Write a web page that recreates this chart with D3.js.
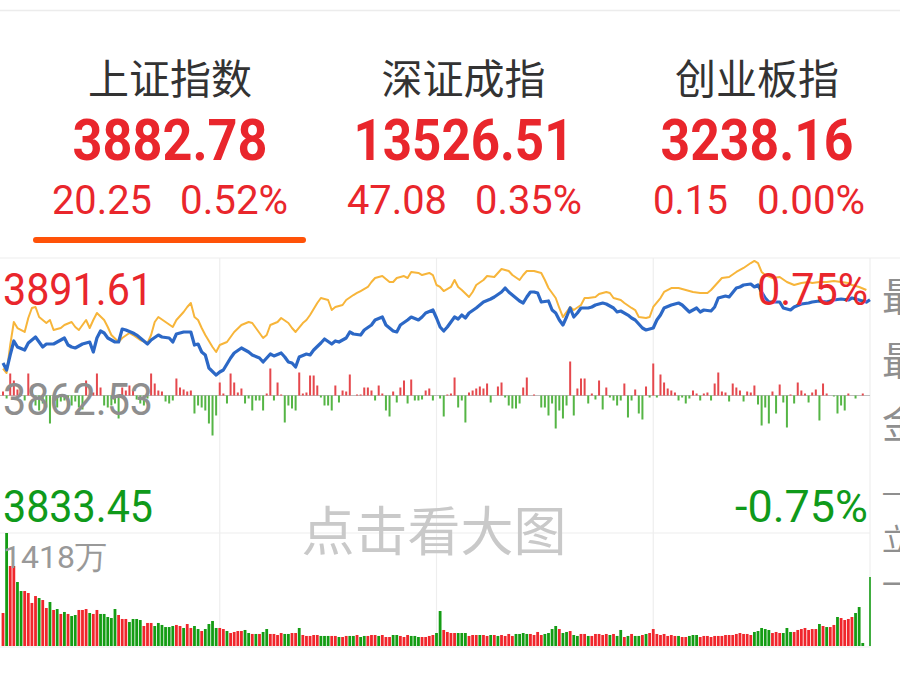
<!DOCTYPE html>
<html><head><meta charset="utf-8">
<script src="https://cdn.jsdelivr.net/npm/d3@7"></script>
<style>html,body{margin:0;padding:0;background:#fff;overflow:hidden}</style>
</head><body>
<script>
// ---------- data ----------
const indexNames = ["上证指数", "深证成指", "创业板指"];
const indexValues = ["3882.78", "13526.51", "3238.16"];
const indexChanges = ["20.25", "47.08", "0.15"];
const indexPercents = ["0.52%", "0.35%", "0.00%"];

const prevClose = 3862.53;
const priceTicks = [3891.61, 3862.53, 3833.45];
const pctTicks = ["0.75%", "-0.75%"];
const volMaxLabel = "1418万";
const volMax = 1418;
const watermark = "点击看大图";
const sideLabels = ["最高", "最低", "金额", "一", "立", "一"];

// minute index (0 = 09:30, 120 = 11:30/13:00, 240 = 15:00), price
const pricePts = [
[0,3869.40],[1,3867.92],[2,3871.10],[3,3874.06],[4,3872.79],[6,3872.15],[7,3873.63],[8,3874.27],[9,3874.90],[11,3872.79],
[12,3873.42],[14,3873.42],[15,3873.84],[17,3874.69],[18,3873.21],[19,3872.79],[20,3872.58],[22,3873.42],[24,3873.84],[25,3871.73],
[26,3874.69],[27,3876.17],[28,3875.75],[29,3874.69],[31,3873.84],[32,3873.84],[33,3876.59],[34,3876.38],[36,3875.75],[37,3875.32],
[38,3874.69],[40,3873.42],[41,3874.27],[43,3875.32],[44,3874.90],[46,3874.69],[47,3873.84],[48,3875.54],[50,3875.96],[51,3875.96],
[52,3875.96],[53,3873.21],[54,3873.42],[55,3871.73],[56,3871.10],[57,3868.35],[59,3866.86],[60,3867.50],[61,3867.92],[63,3870.46],
[64,3871.52],[66,3872.58],[68,3871.73],[69,3871.10],[71,3870.46],[72,3869.62],[74,3871.31],[75,3870.89],[77,3871.52],[78,3870.67],
[79,3869.62],[80,3869.40],[81,3868.56],[82,3870.67],[84,3871.31],[85,3871.10],[86,3872.15],[88,3873.63],[89,3874.48],[91,3873.42],
[92,3874.06],[93,3873.84],[95,3874.69],[96,3875.96],[97,3875.54],[99,3875.32],[100,3876.38],[102,3877.44],[103,3878.50],[105,3879.13],
[106,3877.44],[108,3876.17],[109,3875.96],[110,3877.44],[112,3878.50],[113,3879.13],[115,3878.50],[116,3879.13],[117,3879.98],[119,3880.61],
[120,3878.92],[121,3877.02],[122,3876.17],[123,3877.02],[125,3879.13],[126,3878.71],[127,3879.55],[128,3878.92],[129,3879.98],[131,3881.04],
[132,3881.67],[133,3882.30],[135,3882.94],[136,3883.36],[138,3884.42],[139,3885.26],[140,3884.42],[141,3883.78],[143,3882.52],[144,3882.09],
[145,3883.36],[146,3884.42],[147,3884.42],[148,3884.21],[149,3882.30],[151,3882.52],[152,3880.61],[153,3879.98],[154,3878.50],[155,3877.44],
[156,3879.13],[157,3881.04],[158,3879.13],[159,3879.98],[160,3881.04],[162,3881.04],[163,3881.25],[164,3881.67],[166,3882.09],[167,3881.88],
[169,3881.04],[170,3880.19],[171,3880.40],[173,3879.55],[174,3878.92],[175,3878.50],[177,3876.80],[178,3876.38],[180,3876.80],[181,3878.50],
[182,3879.55],[183,3881.04],[185,3881.67],[187,3882.09],[188,3881.67],[190,3880.19],[192,3881.04],[193,3880.19],[194,3880.61],[196,3880.40],
[197,3881.25],[198,3883.15],[200,3883.57],[201,3883.36],[203,3885.26],[204,3885.48],[205,3885.90],[207,3886.11],[208,3885.48],[209,3885.90],
[210,3884.42],[211,3883.15],[212,3882.30],[214,3882.30],[215,3882.30],[216,3881.04],[218,3880.61],[219,3881.25],[221,3881.88],[223,3882.09],
[224,3882.30],[226,3882.52],[228,3882.30],[230,3882.73],[232,3882.94],[234,3882.73],[235,3883.15],[237,3882.73],[239,3882.30],[240,3882.78]
];

const avgPts = [
[0,3868.20],[1,3867.29],[2,3873.21],[3,3878.07],[4,3876.80],[6,3875.96],[7,3878.92],[8,3881.04],[9,3881.25],[10,3879.13],
[12,3877.86],[13,3878.50],[14,3876.38],[16,3876.80],[17,3877.44],[19,3878.07],[20,3877.02],[21,3876.38],[22,3877.44],[23,3878.50],
[24,3876.80],[25,3878.50],[26,3879.98],[28,3878.50],[29,3877.02],[30,3875.32],[32,3873.84],[33,3874.69],[35,3875.75],[36,3875.32],
[38,3874.27],[40,3873.63],[41,3875.32],[42,3878.07],[43,3879.13],[45,3878.07],[47,3877.02],[48,3878.50],[50,3880.19],[51,3881.25],
[52,3882.09],[53,3879.13],[54,3878.50],[55,3876.80],[56,3875.32],[58,3872.79],[59,3871.73],[60,3873.21],[62,3873.84],[64,3875.96],
[66,3877.44],[68,3878.07],[69,3877.86],[70,3876.80],[71,3875.75],[72,3874.69],[73,3875.32],[74,3877.44],[76,3878.07],[77,3878.92],
[79,3877.86],[80,3876.80],[81,3875.96],[83,3877.86],[84,3878.50],[85,3879.55],[87,3882.09],[88,3883.15],[90,3882.73],[91,3880.61],
[92,3881.25],[94,3881.67],[95,3882.73],[97,3883.78],[98,3884.21],[99,3884.63],[101,3885.48],[102,3886.53],[103,3887.38],[105,3887.80],
[107,3886.53],[108,3886.53],[109,3887.38],[111,3887.80],[112,3887.38],[113,3888.65],[115,3888.44],[116,3888.01],[118,3888.44],[119,3888.01],
[120,3885.90],[121,3885.48],[122,3884.63],[124,3885.48],[125,3886.96],[126,3885.48],[127,3884.84],[129,3883.36],[130,3884.42],[131,3885.90],
[133,3886.96],[134,3887.80],[136,3887.59],[137,3888.44],[138,3889.28],[140,3888.86],[141,3888.01],[143,3886.96],[144,3888.01],[145,3888.86],
[147,3888.86],[149,3888.44],[150,3886.96],[151,3885.26],[153,3883.15],[154,3881.04],[155,3879.13],[157,3881.25],[158,3880.61],[160,3881.67],
[161,3883.15],[162,3883.15],[164,3883.36],[165,3883.99],[167,3884.42],[168,3884.21],[169,3883.15],[171,3882.73],[172,3882.09],[174,3881.04],
[175,3880.61],[176,3879.13],[178,3878.92],[179,3879.13],[180,3881.25],[182,3883.15],[183,3884.42],[185,3885.26],[187,3885.26],[189,3884.84],
[191,3884.42],[193,3884.21],[195,3884.21],[196,3884.84],[198,3886.53],[199,3887.38],[201,3887.59],[203,3888.65],[205,3889.50],[207,3890.55],
[208,3890.98],[209,3890.55],[210,3888.65],[211,3888.01],[213,3887.38],[215,3887.59],[217,3886.53],[219,3885.90],[221,3886.32],[223,3886.53],
[224,3886.32],[226,3886.53],[228,3886.53],[230,3886.75],[232,3886.53],[234,3886.32],[235,3885.90],[237,3885.48],[239,3884.84]
];

// buy/sell strength bars, one per minute
const strength = [
4,-3,22,15,6,8,-5,22,10,-10,
-15,-8,-12,-28,-8,-12,-6,-5,-15,-10,
-6,-12,-14,15,8,3,22,8,-10,-12,
-10,-8,-23,8,5,10,5,-4,-8,-10,
-3,22,12,5,4,-6,-8,-5,17,8,
6,4,5,-18,-10,-12,-15,-28,-40,-20,
13,2,-8,22,13,3,7,-8,-3,-15,
-5,-5,-15,2,27,-5,13,1,-27,-10,
-13,-15,23,2,3,20,20,10,-2,-10,
-10,-15,10,-7,5,4,21,0,1,1,
8,8,5,-5,10,2,-15,-21,4,-7,
8,15,-8,16,-5,-5,-4,5,7,-5,
0,-3,-21,1,2,18,-12,-5,-27,3,
5,7,9,7,12,-7,0,9,13,-2,
-10,-13,-13,-8,8,18,0,1,0,-12,
-12,-20,-8,-33,-15,-23,-10,34,-20,7,
17,17,-8,2,-4,15,-14,8,-2,-5,
-10,-5,12,-22,-5,6,-18,-24,9,-2,
32,-2,21,13,7,5,3,-5,-2,-8,
-3,5,2,-5,2,3,-5,12,23,4,
3,-6,12,8,5,-6,4,3,10,-9,
-30,-12,-28,4,-18,11,-7,-32,1,-8,
13,5,2,-7,3,6,-25,12,2,0,
-1,-18,-10,-15,2,0,-3,0,2,0,
0
];

// volume (万手), one per minute
const volumes = [
414,1418,1004,1004,803,690,690,665,540,627,
602,577,477,552,452,464,402,427,402,376,
389,452,452,464,414,402,452,402,402,364,
351,464,389,339,339,301,339,339,326,251,
289,289,251,289,264,238,238,251,264,251,
226,276,226,251,213,188,213,276,314,226,
226,213,188,163,176,188,188,201,163,151,
151,151,176,213,151,151,138,163,151,151,
163,163,226,138,126,126,138,138,126,126,
126,126,126,113,113,126,126,126,138,113,
126,126,138,138,126,138,113,113,138,138,
126,113,138,126,126,113,113,113,126,138,
163,439,201,176,163,163,163,163,163,126,
138,138,138,138,126,138,138,126,138,126,
151,126,151,151,163,151,151,138,176,138,
151,163,213,251,213,163,176,188,138,126,
151,151,126,126,151,151,138,151,138,151,
126,201,113,126,151,126,126,138,151,163,
213,151,138,151,126,138,126,126,113,113,
126,138,138,113,126,126,113,126,126,126,
138,138,138,151,163,151,151,138,176,188,
226,213,201,163,176,163,163,226,176,176,
201,213,226,201,213,213,276,251,238,238,
264,364,351,326,339,364,414,489,38,0,
866
];
const volUp = [
1,0,1,1,0,0,1,1,1,1,
0,1,1,0,1,0,1,0,1,0,
0,1,1,1,0,1,1,0,0,0,
0,0,1,1,1,0,0,0,0,1,
1,1,0,0,0,0,0,0,1,1,
0,1,1,0,0,1,0,0,0,0,
1,1,0,1,1,1,1,0,0,1,
0,1,0,0,1,1,1,1,0,0,
1,1,0,1,1,1,1,1,0,0,
0,1,1,0,1,1,0,0,1,0,
0,1,1,1,0,1,1,1,0,0,
1,1,1,0,0,0,1,1,1,1,
0,0,1,1,1,1,0,0,0,1,
1,1,0,1,1,0,1,0,1,1,
1,1,0,0,0,0,1,1,1,1,
0,0,0,0,1,0,0,1,0,0,
1,1,0,1,1,1,1,1,0,1,
0,0,1,0,1,0,0,1,0,1,
1,1,1,1,1,1,1,0,1,1,
0,0,0,1,1,1,1,1,1,1,
1,1,1,1,1,1,1,1,0,0,
0,0,0,1,1,1,0,0,0,1,
1,1,1,1,1,1,0,1,0,1,
1,0,1,1,1,1,0,0,0,0,
0
];

// ---------- drawing ----------
const W = 900, H = 686;
const RED = "#e9262c", GREEN = "#0f9a1a", GRAY = "#8e8e8e";
const CJK = "'Noto Sans CJK SC', sans-serif";
const NUM = "Roboto, 'Noto Sans', sans-serif";

const svg = d3.select("body").append("svg").attr("width", W).attr("height", H)
  .style("display", "block").style("background", "#fff");

// header
svg.append("line").attr("x1", 0).attr("x2", W).attr("y1", 10.5).attr("y2", 10.5)
  .attr("stroke", "#ececec").attr("stroke-width", 1.5);

const colX = d3.scalePoint().domain(indexNames).range([170, 757]);
const valueWidths = [195, 220, 193];
const chgLayout = [[52, 100, 180, 108], [347, 100, 475, 107], [653, 75, 757, 108]];

indexNames.forEach((n, i) => {
  const cx = colX(n);
  svg.append("text").attr("x", cx).attr("y", 94).attr("text-anchor", "middle")
    .attr("font-family", CJK).attr("font-size", 41).attr("fill", "#333").text(n);
  svg.append("text").attr("x", cx - valueWidths[i] / 2).attr("y", 160)
    .attr("font-family", NUM).attr("font-weight", 700).attr("font-size", 58)
    .attr("textLength", valueWidths[i]).attr("lengthAdjust", "spacingAndGlyphs")
    .attr("fill", RED).text(indexValues[i]);
  const L = chgLayout[i];
  svg.append("text").attr("x", L[0]).attr("y", 214).attr("font-family", NUM).attr("font-size", 41)
    .attr("textLength", L[1]).attr("lengthAdjust", "spacingAndGlyphs").attr("fill", RED).text(indexChanges[i]);
  svg.append("text").attr("x", L[2]).attr("y", 214).attr("font-family", NUM).attr("font-size", 41)
    .attr("textLength", L[3]).attr("lengthAdjust", "spacingAndGlyphs").attr("fill", RED).text(indexPercents[i]);
});
svg.append("rect").attr("x", 33).attr("y", 237).attr("width", 273).attr("height", 6)
  .attr("rx", 3).attr("fill", "#ff5208");

// scales
const x = d3.scaleLinear().domain([0, 240]).range([3, 870]);
const y = d3.scaleLinear().domain([priceTicks[2], priceTicks[0]]).range([533, 258]);
const y0 = y(prevClose);
const yS = d3.scaleLinear().domain([-50, 50]).range([y0 + 50, y0 - 50]);
const yV = d3.scaleLinear().domain([0, volMax]).range([646, 533]);

// grid
const grid = svg.append("g").attr("stroke", "#eeeeee").attr("stroke-width", 1.2);
grid.append("line").attr("x1", 0).attr("x2", W).attr("y1", 258).attr("y2", 258);
grid.append("line").attr("x1", 0).attr("x2", 870).attr("y1", 533).attr("y2", 533);
grid.append("line").attr("x1", 0).attr("x2", 870).attr("y1", 647).attr("y2", 647);
[60, 120, 180, 240].forEach(m => {
  grid.append("line").attr("x1", x(m)).attr("x2", x(m)).attr("y1", 258).attr("y2", 647);
});
svg.append("line").attr("x1", 0).attr("x2", 870).attr("y1", y0).attr("y2", y0)
  .attr("stroke", "#bdbdbd").attr("stroke-width", 1);

// strength bars
svg.append("g").selectAll("rect").data(strength).join("rect")
  .attr("x", (d, i) => x(i) - 1)
  .attr("width", 2)
  .attr("y", d => d >= 0 ? yS(d) : y0)
  .attr("height", d => Math.abs(yS(d) - y0))
  .attr("fill", d => d >= 0 ? "#e5484d" : "#55b545");

// volume bars
svg.append("g").selectAll("rect").data(volumes).join("rect")
  .attr("x", (d, i) => x(i) - (i === 240 ? 0.8 : 1.4))
  .attr("width", (d, i) => i === 240 ? 1.6 : 2.8)
  .attr("y", d => yV(d))
  .attr("height", d => yV(0) - yV(d))
  .attr("fill", (d, i) => volUp[i] ? "#f0262c" : "#149c14");

// lines
const line = d3.line().x(d => x(d[0])).y(d => y(d[1]));
svg.append("path").datum(avgPts).attr("d", line).attr("fill", "none")
  .attr("stroke", "#f7b53a").attr("stroke-width", 2).attr("stroke-linejoin", "round");
svg.append("path").datum(pricePts).attr("d", line).attr("fill", "none")
  .attr("stroke", "#2c68c6").attr("stroke-width", 3.2).attr("stroke-linejoin", "round");

// axis labels
const priceColors = [RED, GRAY, GREEN];
const priceBase = [305, 415, 522];
priceTicks.forEach((v, i) => {
  svg.append("text").attr("x", 3).attr("y", priceBase[i]).attr("font-family", NUM).attr("font-size", 45)
    .attr("textLength", 150).attr("lengthAdjust", "spacingAndGlyphs")
    .attr("fill", priceColors[i]).text(v.toFixed(2));
});
const pctW = [111, 133];
pctTicks.forEach((t, i) => {
  svg.append("text").attr("x", 868 - pctW[i]).attr("y", i === 0 ? 305 : 522)
    .attr("font-family", NUM).attr("font-size", 45)
    .attr("textLength", pctW[i]).attr("lengthAdjust", "spacingAndGlyphs")
    .attr("fill", i === 0 ? RED : GREEN).text(t);
});
svg.append("text").attr("x", 3).attr("y", 568).attr("font-family", NUM).attr("font-size", 32)
  .attr("fill", "#999").text(volMaxLabel);

// watermark
svg.append("text").attr("x", 434).attr("y", 551).attr("text-anchor", "middle")
  .attr("font-family", CJK).attr("font-size", 53).attr("fill", "#c9c9c9").text(watermark);

// side panel labels (clipped by window edge, as in the source screenshot)
const sideY = [311, 375, 438, 503, 550, 595];
const sideSize = [40, 40, 40, 24, 30, 30];
sideLabels.forEach((t, i) => {
  svg.append("text").attr("x", 882).attr("y", sideY[i]).attr("font-family", CJK)
    .attr("font-size", sideSize[i]).attr("fill", "#8f8f8f").text(t);
});
</script>
</body></html>
